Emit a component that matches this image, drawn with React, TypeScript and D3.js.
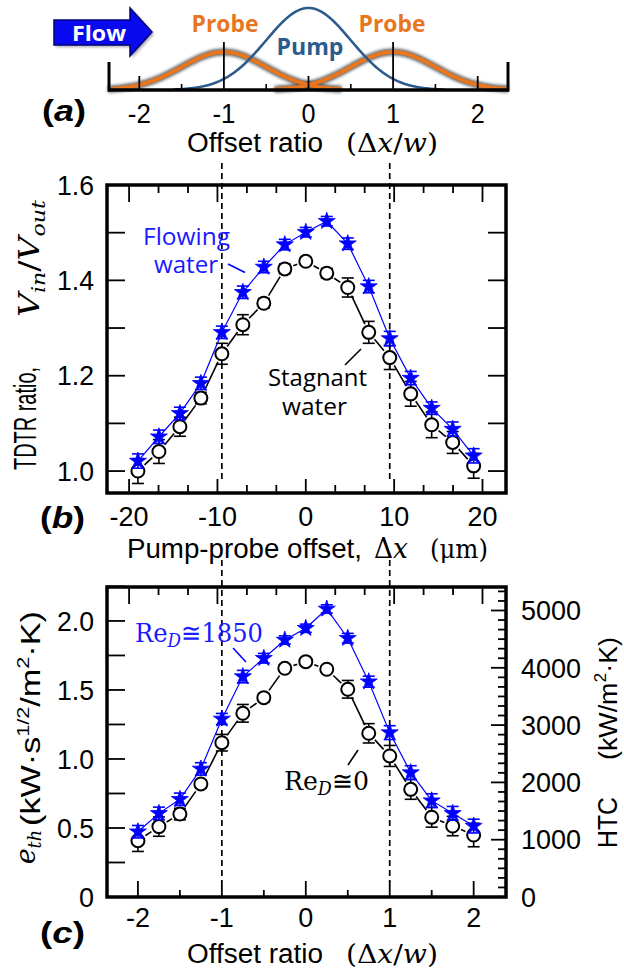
import React from "react";
import * as d3 from "d3";

// ---------- data ----------
const ratioX = [-2, -1.75, -1.5, -1.25, -1, -0.75, -0.5, -0.25, 0, 0.25, 0.5, 0.75, 1, 1.25, 1.5, 1.75, 2];
const W_UM = 9.5; // beam radius (µm)

const tdtrFlow = [1.021, 1.072, 1.121, 1.184, 1.291, 1.375, 1.428, 1.475, 1.501, 1.524, 1.477, 1.387, 1.278, 1.195, 1.132, 1.088, 1.032];
const tdtrFlowErr = [0.015, 0.014, 0.013, 0.013, 0.013, 0.013, 0.012, 0.011, 0.01, 0.01, 0.012, 0.013, 0.015, 0.014, 0.013, 0.015, 0.015];
const tdtrStag = [1.0, 1.041, 1.093, 1.153, 1.246, 1.307, 1.352, 1.424, 1.44, 1.415, 1.385, 1.291, 1.238, 1.162, 1.097, 1.06, 1.011];
const tdtrStagErr = [0.026, 0.025, 0.02, 0.012, 0.022, 0.021, 0.01, 0.01, 0.008, 0.01, 0.02, 0.023, 0.025, 0.026, 0.027, 0.023, 0.026];

const ethFlow = [0.473, 0.606, 0.708, 0.928, 1.29, 1.597, 1.73, 1.862, 1.947, 2.087, 1.875, 1.56, 1.191, 0.901, 0.698, 0.606, 0.514];
const ethFlowErr = [0.045, 0.045, 0.045, 0.045, 0.04, 0.045, 0.035, 0.03, 0.03, 0.03, 0.035, 0.04, 0.05, 0.05, 0.05, 0.05, 0.05];
const ethStag = [0.408, 0.51, 0.601, 0.819, 1.118, 1.331, 1.444, 1.657, 1.705, 1.65, 1.505, 1.186, 1.022, 0.78, 0.578, 0.514, 0.449];
const ethStagErr = [0.078, 0.07, 0.042, 0.03, 0.06, 0.064, 0.03, 0.02, 0.02, 0.02, 0.064, 0.07, 0.076, 0.072, 0.072, 0.07, 0.085];

const tickA = [-2, -1, 0, 1, 2];
const tickBxLabels = [-20, -10, 0, 10, 20];
const tickByLabels = [1.0, 1.2, 1.4, 1.6];
const tickCyLabels = [0, 0.5, 1.0, 1.5, 2.0];
const tickHTC = [0, 1000, 2000, 3000, 4000, 5000];

// ---------- styling ----------
const SANS = "'Liberation Sans', Arial, Helvetica, sans-serif";
const SERIF = "'DejaVu Serif', serif";
const CAL = "'Open Sans', Lato, sans-serif";
const BLUE = "#0000ff";
const ORANGE = "#E8761E";
const PUMP = "#2D5B8C";

// ---------- scales ----------
const xa = d3.scaleLinear().domain([-2.37, 2.37]).range([108, 509]);
const xb = d3.scaleLinear().domain([-22.5, 22.66]).range([107, 506]);
const yb = d3.scaleLinear().domain([0.954, 1.6]).range([493, 185]);
const xc = (r: number) => xb(r * W_UM);
const yc = d3.scaleLinear().domain([0, 2.246]).range([897, 587]);
const yh = d3.scaleLinear().domain([0, 5410]).range([897, 587]);

const gauss = (x: number, c: number) => Math.exp(-2 * (x - c) * (x - c));
const fmtInt = (t: number) => (t < 0 ? "-" + Math.abs(t) : String(t));

function ErrBar({ x, y1, y2, color }: any) {
  return (
    <g stroke={color} strokeWidth={1.6}>
      <line x1={x} x2={x} y1={y1} y2={y2} />
      <line x1={x - 6} x2={x + 6} y1={y1} y2={y1} />
      <line x1={x - 6} x2={x + 6} y1={y2} y2={y2} />
    </g>
  );
}

function Series({ xs, ys, es, yS, kind }: any) {
  const pts = xs.map((x: number, i: number) => [x, yS(ys[i])]);
  if (kind === "star") {
    const line = d3.line()(pts as any) || "";
    const star = d3.symbol(d3.symbolStar, 90)() || "";
    return (
      <g>
        <path d={line} fill="none" stroke={BLUE} strokeWidth={1.2} />
        {pts.map((p: number[], i: number) => (
          <ErrBar key={i} x={p[0]} y1={yS(ys[i] - es[i])} y2={yS(ys[i] + es[i])} color={BLUE} />
        ))}
        {pts.map((p: number[], i: number) => (
          <path key={"s" + i} d={star} transform={`translate(${p[0]},${p[1]})`} fill={BLUE} stroke={BLUE} strokeWidth={0.8} />
        ))}
      </g>
    );
  }
  const r = 6.5;
  const gap = 9;
  const segs: any[] = [];
  for (let i = 0; i < pts.length - 1; i++) {
    const [x0, y0] = pts[i];
    const [x1, y1] = pts[i + 1];
    const L = Math.hypot(x1 - x0, y1 - y0);
    if (L > 2 * gap + 2) {
      const ux = (x1 - x0) / L, uy = (y1 - y0) / L;
      segs.push(<line key={"l" + i} x1={x0 + ux * gap} y1={y0 + uy * gap} x2={x1 - ux * gap} y2={y1 - uy * gap} stroke="#000" strokeWidth={1.6} />);
    }
  }
  return (
    <g>
      {segs}
      {pts.map((p: number[], i: number) => (
        <ErrBar key={i} x={p[0]} y1={yS(ys[i] - es[i])} y2={yS(ys[i] + es[i])} color="#000" />
      ))}
      {pts.map((p: number[], i: number) => (
        <circle key={"c" + i} cx={p[0]} cy={p[1]} r={r} fill="#fff" stroke="#000" strokeWidth={2} />
      ))}
    </g>
  );
}

function PanelA() {
  const base = 90;
  const pumpH = 82, probeH = 38;
  const lineGen = (c: number, h: number, lo: number, hi: number) =>
    d3.line()(d3.range(lo, hi + 0.001, 0.02).map((x) => [xa(x), base - h * gauss(x, c)]) as any) || "";
  const minor = [-1.5, -0.5, 0.5, 1.5];
  return (
    <g>
      <defs>
        <filter id="blurA" x="-10%" y="-50%" width="120%" height="200%">
          <feGaussianBlur stdDeviation="1.6" />
        </filter>
      </defs>
      {/* flow arrow */}
      <path d="M54,20 L130,20 L130,8 L152,32 L130,56 L130,45 L54,45 Z" fill="#000" opacity={0.35} transform="translate(2,2)" filter="url(#blurA)" />
      <path d="M54,20 L130,20 L130,8 L152,32 L130,56 L130,45 L54,45 Z" fill="#0a0af0" stroke="#00007a" strokeWidth={1.5} />
      <text x={99} y={41} textAnchor="middle" fill="#fff" fontFamily={CAL} fontWeight={700} fontSize={22} textLength={54} lengthAdjust="spacingAndGlyphs">Flow</text>
      {/* axis shadow */}
      <line x1={108} x2={509} y1={base + 1} y2={base + 1} stroke="#333" strokeWidth={5} filter="url(#blurA)" opacity={0.6} />
      {/* probe curves */}
      <path d={lineGen(-1, probeH, -2.37, 0.4)} fill="none" stroke="#222" strokeWidth={7} filter="url(#blurA)" opacity={0.7} />
      <path d={lineGen(1, probeH, -0.4, 2.37)} fill="none" stroke="#222" strokeWidth={7} filter="url(#blurA)" opacity={0.7} />
      <path d={lineGen(-1, probeH, -2.37, 0.4)} fill="none" stroke={ORANGE} strokeWidth={4} />
      <path d={lineGen(1, probeH, -0.4, 2.37)} fill="none" stroke={ORANGE} strokeWidth={4} />
      {/* pump */}
      <path d={lineGen(0, pumpH, -1.6, 1.6)} fill="none" stroke={PUMP} strokeWidth={2.6} />
      {/* axis */}
      <line x1={108} x2={509} y1={base} y2={base} stroke="#000" strokeWidth={3.5} />
      <line x1={109} x2={109} y1={62} y2={base + 1.5} stroke="#000" strokeWidth={3} />
      <line x1={508} x2={508} y1={62} y2={base + 1.5} stroke="#000" strokeWidth={3} />
      {tickA.map((t) => (
        <line key={t} x1={xa(t)} x2={xa(t)} y1={Math.abs(t) === 1 ? 42 : 76} y2={base} stroke="#000" strokeWidth={1.8} />
      ))}
      {minor.map((t) => (
        <line key={t} x1={xa(t)} x2={xa(t)} y1={84} y2={base} stroke="#000" strokeWidth={1.6} />
      ))}
      {tickA.map((t) => (
        <text key={"l" + t} x={xa(t)} y={123} textAnchor="middle" fontFamily={SANS} fontSize={27} textLength={t < 0 ? 23 : 14} lengthAdjust="spacingAndGlyphs">{fmtInt(t)}</text>
      ))}
      <text x={225} y={32} textAnchor="middle" fill={ORANGE} fontFamily={CAL} fontWeight={700} fontSize={24} textLength={67} lengthAdjust="spacingAndGlyphs">Probe</text>
      <text x={392} y={32} textAnchor="middle" fill={ORANGE} fontFamily={CAL} fontWeight={700} fontSize={24} textLength={67} lengthAdjust="spacingAndGlyphs">Probe</text>
      <text x={310} y={55} textAnchor="middle" fill={PUMP} fontFamily={CAL} fontWeight={700} fontSize={24} textLength={67} lengthAdjust="spacingAndGlyphs">Pump</text>
      <text x={42} y={121} fontFamily={SANS} fontWeight={700} fontSize={30} textLength={44} lengthAdjust="spacingAndGlyphs">(<tspan fontStyle="italic">a</tspan>)</text>
      <text x={187} y={152} fontFamily={SANS} fontSize={27} textLength={136} lengthAdjust="spacingAndGlyphs">Offset ratio</text>
      <text x={346} y={152} fontFamily={SERIF} fontSize={26} textLength={92} lengthAdjust="spacingAndGlyphs">(Δ<tspan fontStyle="italic">x</tspan>/<tspan fontStyle="italic">w</tspan>)</text>
    </g>
  );
}

function muTicks(): number[] {
  return d3.range(-6, 7).map((k) => (k * 10) / 3);
}

function PanelB() {
  const L = 107, R = 506, T = 185, B = 493;
  const xsUm = ratioX.map((r) => r * W_UM);
  const yT = d3.range(1.0, 1.61, 0.1);
  return (
    <g>
      {/* dashed guides */}
      {[-W_UM, W_UM].map((v) => (
        <line key={v} x1={xb(v)} x2={xb(v)} y1={163} y2={483} stroke="#000" strokeWidth={1.7} strokeDasharray="6,4" />
      ))}
      {/* ticks */}
      {muTicks().map((t, i) => {
        const major = Math.abs(t % 10) < 1e-6;
        return (
          <g key={i} stroke="#000" strokeWidth={1.8}>
            <line x1={xb(t)} x2={xb(t)} y1={T} y2={T + (major ? 17 : 8)} />
            <line x1={xb(t)} x2={xb(t)} y1={B} y2={B - (major ? 14 : 8)} />
          </g>
        );
      })}
      {yT.map((t, i) => (
        <g key={i} stroke="#000" strokeWidth={1.8}>
          <line x1={L} x2={L + 18} y1={yb(t)} y2={yb(t)} />
          <line x1={R} x2={R - 18} y1={yb(t)} y2={yb(t)} />
        </g>
      ))}
      <Series xs={xsUm.map(xb)} ys={tdtrStag} es={tdtrStagErr} yS={yb} kind="circle" />
      <Series xs={xsUm.map(xb)} ys={tdtrFlow} es={tdtrFlowErr} yS={yb} kind="star" />
      <rect x={L} y={T} width={R - L} height={B - T} fill="none" stroke="#000" strokeWidth={3.5} />
      {tickByLabels.map((t) => (
        <text key={t} x={94} y={yb(t)} dy="0.36em" textAnchor="end" fontFamily={SANS} fontSize={27} textLength={37} lengthAdjust="spacingAndGlyphs">{t.toFixed(1)}</text>
      ))}
      {tickBxLabels.map((t) => (
        <text key={t} x={xb(t)} y={526} textAnchor="middle" fontFamily={SANS} fontSize={27} textLength={t < 0 ? 39 : t === 0 ? 15 : 30} lengthAdjust="spacingAndGlyphs">{fmtInt(t)}</text>
      ))}
      {/* annotations */}
      <text x={143} y={245} fill="#1a1aff" fontFamily={CAL} fontSize={24} textLength={87} lengthAdjust="spacingAndGlyphs">Flowing</text>
      <text x={154} y={273} fill="#1a1aff" fontFamily={CAL} fontSize={24} textLength={64} lengthAdjust="spacingAndGlyphs">water</text>
      <line x1={228} y1={264} x2={245} y2={272.5} stroke={BLUE} strokeWidth={1.6} />
      <text x={268} y={386} fill="#000" fontFamily={CAL} fontSize={24} textLength={99} lengthAdjust="spacingAndGlyphs">Stagnant</text>
      <text x={282} y={415} fill="#000" fontFamily={CAL} fontSize={24} textLength={65} lengthAdjust="spacingAndGlyphs">water</text>
      <line x1={345} y1={365} x2={361} y2={349} stroke="#000" strokeWidth={1.6} />
      {/* axis titles */}
      <text x={40} y={528} fontFamily={SANS} fontWeight={700} fontSize={30} textLength={45} lengthAdjust="spacingAndGlyphs">(<tspan fontStyle="italic">b</tspan>)</text>
      <text x={127} y={558} fontFamily={SANS} fontSize={28} textLength={235} lengthAdjust="spacingAndGlyphs">Pump-probe offset,</text>
      <text x={374} y={558} fontFamily={SERIF} fontSize={27} textLength={34} lengthAdjust="spacingAndGlyphs">Δ<tspan fontStyle="italic">x</tspan></text>
      <text x={430} y={558} fontFamily={SERIF} fontSize={26} textLength={58} lengthAdjust="spacingAndGlyphs">(μm)</text>
      <text transform="translate(36,470) rotate(-90)" fontFamily={SANS} fontSize={32} textLength={103} lengthAdjust="spacingAndGlyphs">TDTR ratio,</text>
      <text transform="translate(39,317) rotate(-90)" fontFamily={SERIF} fontStyle="italic" fontSize={27} textLength={117} lengthAdjust="spacingAndGlyphs">
        V<tspan fontSize={18} dy={6}>in</tspan><tspan dy={-6} fontStyle="normal">/</tspan>V<tspan fontSize={18} dy={6}>out</tspan>
      </text>
    </g>
  );
}

function PanelC() {
  const L = 107, R = 506, T = 587, B = 897;
  const yT = d3.range(0, 2.251, 0.25);
  const hMinor = d3.range(0, 5401, 1000 / 6);
  return (
    <g>
      {[-1, 1].map((v) => (
        <line key={v} x1={xc(v)} x2={xc(v)} y1={560} y2={882} stroke="#000" strokeWidth={1.7} strokeDasharray="6,4" />
      ))}
      {muTicks().map((t, i) => {
        const major = Math.abs(t % 10) < 1e-6;
        return <line key={i} x1={xb(t)} x2={xb(t)} y1={T} y2={T + (major ? 17 : 8)} stroke="#000" strokeWidth={1.8} />;
      })}
      {d3.range(-2, 2.01, 0.5).map((t, i) => {
        const major = Math.abs(t % 1) < 1e-6;
        return <line key={"b" + i} x1={xc(t)} x2={xc(t)} y1={B} y2={B - (major ? 16 : 7)} stroke="#000" strokeWidth={1.8} />;
      })}
      {yT.map((t, i) => (
        <line key={"y" + i} x1={L} x2={L + 18} y1={yc(t)} y2={yc(t)} stroke="#000" strokeWidth={1.8} />
      ))}
      {hMinor.map((t, i) => {
        const major = i % 6 === 0;
        return <line key={"h" + i} x1={R} x2={R - (major ? 15 : 8)} y1={yh(t)} y2={yh(t)} stroke="#000" strokeWidth={1.8} />;
      })}
      <Series xs={ratioX.map(xc)} ys={ethStag} es={ethStagErr} yS={yc} kind="circle" />
      <Series xs={ratioX.map(xc)} ys={ethFlow} es={ethFlowErr} yS={yc} kind="star" />
      <rect x={L} y={T} width={R - L} height={B - T} fill="none" stroke="#000" strokeWidth={3.5} />
      {tickCyLabels.map((t) => (
        <text key={t} x={94} y={yc(t)} dy="0.36em" textAnchor="end" fontFamily={SANS} fontSize={27} textLength={t === 0 ? 15 : 37} lengthAdjust="spacingAndGlyphs">{t === 0 ? "0" : t.toFixed(1)}</text>
      ))}
      {tickHTC.map((t) => (
        <text key={t} x={521} y={yh(t)} dy="0.36em" fontFamily={SANS} fontSize={27} textLength={t === 0 ? 15 : 60} lengthAdjust="spacingAndGlyphs">{String(t)}</text>
      ))}
      {tickA.map((t) => (
        <text key={t} x={xc(t)} y={927} textAnchor="middle" fontFamily={SANS} fontSize={27} textLength={t < 0 ? 24 : 15} lengthAdjust="spacingAndGlyphs">{fmtInt(t)}</text>
      ))}
      {/* annotations */}
      <text x={135} y={642} fill="#1a1aff" fontFamily={SERIF} fontSize={26} textLength={128} lengthAdjust="spacingAndGlyphs">
        Re<tspan fontSize={18} dy={5} fontStyle="italic">D</tspan><tspan dy={-5}>≅1850</tspan>
      </text>
      <line x1={233} y1={648} x2={246} y2={662} stroke={BLUE} strokeWidth={1.6} />
      <text x={284} y={790} fill="#000" fontFamily={SERIF} fontSize={26} textLength={85} lengthAdjust="spacingAndGlyphs">
        Re<tspan fontSize={18} dy={5} fontStyle="italic">D</tspan><tspan dy={-5}>≅0</tspan>
      </text>
      <line x1={348} y1={765} x2={358} y2={750} stroke="#000" strokeWidth={1.6} />
      {/* titles */}
      <text x={40} y={943} fontFamily={SANS} fontWeight={700} fontSize={30} textLength={45} lengthAdjust="spacingAndGlyphs">(<tspan fontStyle="italic">c</tspan>)</text>
      <text x={187} y={963} fontFamily={SANS} fontSize={27} textLength={136} lengthAdjust="spacingAndGlyphs">Offset ratio</text>
      <text x={346} y={963} fontFamily={SERIF} fontSize={26} textLength={92} lengthAdjust="spacingAndGlyphs">(Δ<tspan fontStyle="italic">x</tspan>/<tspan fontStyle="italic">w</tspan>)</text>
      <text transform="translate(35,864) rotate(-90)" fontFamily={SERIF} fontStyle="italic" fontSize={27} textLength={34} lengthAdjust="spacingAndGlyphs">
        e<tspan fontSize={18} dy={6}>th</tspan>
      </text>
      <text transform="translate(40,826) rotate(-90)" fontFamily={SANS} fontSize={27} textLength={215} lengthAdjust="spacingAndGlyphs">
        (kW·s<tspan fontSize={17} dy={-11}>1/2</tspan><tspan dy={11}>/m</tspan><tspan fontSize={17} dy={-11}>2</tspan><tspan dy={11}>·K)</tspan>
      </text>
      <text transform="translate(617,848) rotate(-90)" fontFamily={SANS} fontSize={27} textLength={51} lengthAdjust="spacingAndGlyphs">HTC</text>
      <text transform="translate(617,760) rotate(-90)" fontFamily={SANS} fontSize={26} textLength={123} lengthAdjust="spacingAndGlyphs">
        (kW/m<tspan fontSize={17} dy={-11}>2</tspan><tspan dy={11}>·K)</tspan>
      </text>
    </g>
  );
}

export default function App() {
  return (
    <svg width={624} height={970} viewBox="0 0 624 970" style={{ position: "absolute", left: 0, top: 0, background: "#fff" }}>
      <rect x={0} y={0} width={624} height={970} fill="#fff" />
      <PanelA />
      <PanelB />
      <PanelC />
    </svg>
  );
}
